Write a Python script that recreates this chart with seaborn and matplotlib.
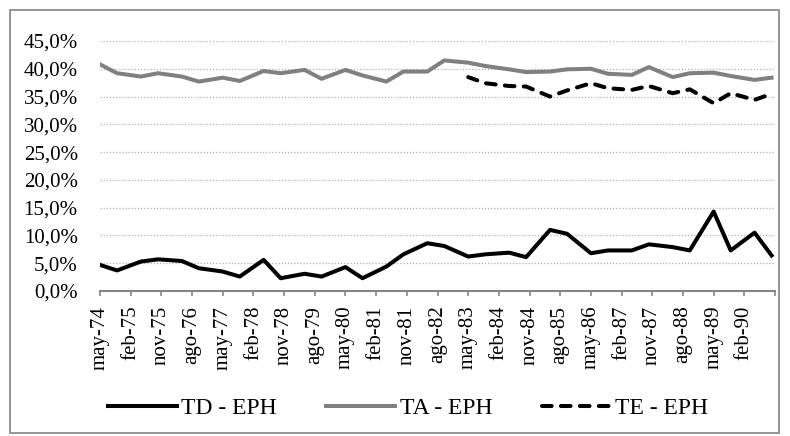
import numpy as np
import pandas as pd
import seaborn as sns
import matplotlib.pyplot as plt
from matplotlib.patches import Rectangle
from matplotlib.ticker import FuncFormatter

# semestral waves (may / oct), 1974-1990
years = list(range(1974, 1991))
waves = ["may", "oct"]

td = [4.7, 3.7, 5.3, 5.7, 5.4, 4.1, 3.5, 2.6, 5.6, 2.3, 3.1, 2.6, 4.3, 2.3, 4.4, 6.6,
      8.6, 8.1, 6.2, 6.6, 6.9, 6.1, 11.0, 10.3, 6.8, 7.3, 7.3, 8.4, 7.9, 7.3, 14.3, 7.3,
      10.5, 6.4]
ta = [40.8, 39.2, 38.6, 39.2, 38.6, 37.7, 38.4, 37.8, 39.6, 39.2, 39.8, 38.2, 39.8, 38.8,
      37.7, 39.5, 39.5, 41.5, 41.1, 40.5, 39.9, 39.4, 39.5, 39.9, 40.0, 39.1, 38.9, 40.3,
      38.5, 39.2, 39.3, 38.7, 38.0, 38.4]
# TE starts in may-83
te = [38.5, 37.4, 36.9, 36.8, 35.0, 36.1, 37.4, 36.5, 36.2, 36.9, 35.6, 36.3, 33.8, 35.6,
      34.4, 35.5]

tick_labels = ["may-74", "feb-75", "nov-75", "ago-76", "may-77", "feb-78", "nov-78",
               "ago-79", "may-80", "feb-81", "nov-81", "ago-82", "may-83", "feb-84",
               "nov-84", "ago-85", "may-86", "feb-87", "nov-87", "ago-88", "may-89",
               "feb-90", ""]

# months counted from may-74
month_off = {"may": 0, "oct": 5}
months = [(y - 1974) * 12 + month_off[w] for y in years for w in waves]

df = pd.DataFrame({"mes": months, "TD - EPH": td, "TA - EPH": ta})
df["TE - EPH"] = [np.nan] * (len(months) - len(te)) + te

plt.rcParams["font.family"] = ["Liberation Serif", "DejaVu Serif"]

fig = plt.figure(figsize=(7.9, 4.36), dpi=100)
ax = fig.add_axes([100 / 790, 1 - 291 / 436, 675 / 790, 250 / 436])

sns.lineplot(data=df, x="mes", y="TD - EPH", ax=ax, color="black", lw=2.9,
             label="TD - EPH")
sns.lineplot(data=df, x="mes", y="TA - EPH", ax=ax, color="#808080", lw=2.9,
             label="TA - EPH")
sns.lineplot(data=df.dropna(), x="mes", y="TE - EPH", ax=ax, color="black", lw=2.9,
             label="TE - EPH")
ax.lines[2].set_dashes([2.4, 2.3])
ax.lines[2].set_dash_capstyle("round")

ax.set_xlim(0, 198)
ax.set_ylim(0, 45)
ax.set_yticks(np.arange(0, 46, 5))
ax.yaxis.set_major_formatter(FuncFormatter(lambda v, p: f"{v:.1f}%".replace(".", ",")))
ax.set_xticks(range(0, 199, 9))
ax.set_xticklabels(tick_labels, rotation=90)
ax.tick_params(axis="x", length=3.6, color="#868686", width=1.2, labelsize=15, pad=7)
ax.tick_params(axis="y", length=0, labelsize=15, pad=16)
ax.grid(axis="y", color="#b0b0b0", ls=(0, (1, 1.5)), lw=0.9)
ax.set_axisbelow(True)
ax.set_xlabel("")
ax.set_ylabel("")
for s in ["top", "right", "left"]:
    ax.spines[s].set_visible(False)
ax.spines["bottom"].set_color("#868686")
ax.spines["bottom"].set_linewidth(1.5)

leg = ax.legend(loc="center", bbox_to_anchor=(408 / 790, 1 - 408 / 436),
                bbox_transform=fig.transFigure, ncol=3, frameon=False,
                fontsize=17, handlelength=2.9, handletextpad=0.2, columnspacing=2.1)
leg.get_lines()[2].set_dashes([2.4, 2.3])
leg.get_lines()[2].set_dash_capstyle("round")

fig.patches.append(Rectangle((10 / 790, 3 / 436), 769 / 790, 423 / 436,
                             transform=fig.transFigure, fill=False,
                             edgecolor="#8c8c8c", lw=1.3))

fig.savefig("out.png", dpi=100)
